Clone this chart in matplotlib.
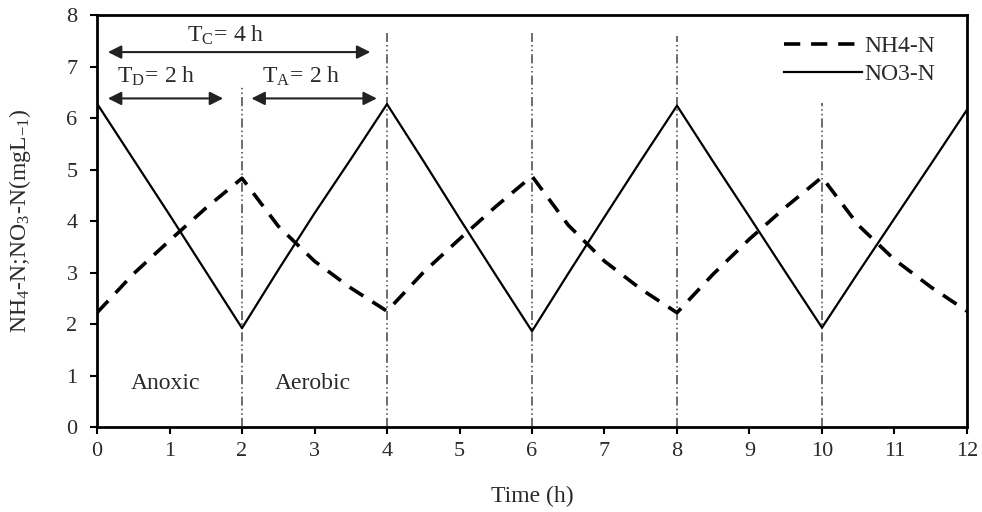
import matplotlib
matplotlib.use("Agg")
import matplotlib.pyplot as plt

plt.rcParams['font.family'] = ['Liberation Serif', 'DejaVu Serif']
plt.rcParams['mathtext.fontset'] = 'stix'

# Data
time_h = [0, 0.5, 1, 1.5, 2, 2.5, 3, 3.5, 4, 4.5, 5, 5.5, 6, 6.5, 7, 7.5, 8,
          8.5, 9, 9.5, 10, 10.5, 11, 11.5, 12]
nh4_n = [2.22, 2.97, 3.62, 4.25, 4.83, 3.9, 3.22, 2.7, 2.25,
         3.0, 3.65, 4.28, 4.87, 3.92, 3.22, 2.68, 2.22,
         2.97, 3.65, 4.27, 4.85, 3.92, 3.25, 2.72, 2.25]
no3_n = [6.28, 5.2, 4.12, 3.02, 1.92, 3.05, 4.15, 5.2, 6.27,
         5.17, 4.05, 2.95, 1.86, 2.98, 4.08, 5.17, 6.24,
         5.15, 4.08, 3.0, 1.93, 3.0, 4.05, 5.1, 6.16]
phase_times = [2, 4, 6, 8, 10]
phase_tops = [6.6, 7.65, 7.65, 7.6, 6.3]
x_ticks = list(range(0, 13))
y_ticks = list(range(0, 9))

txt = '#2a2a2a'
fig = plt.figure(figsize=(9.82, 5.12), dpi=100)
ax = fig.add_axes([0.0988, 0.166, 0.8859, 0.8047])

for t, top in zip(phase_times, phase_tops):
    ax.plot([t, t], [0, top], color='#444444', lw=1.1,
            dashes=(6, 2, 1, 2, 1, 2), zorder=1)

ax.plot(time_h, nh4_n, color='black', lw=2.6, dashes=(4.5, 3), label='NH4-N', zorder=3)
ax.plot(time_h, no3_n, color='black', lw=1.6, solid_joinstyle='round', label='NO3-N', zorder=3)

ax.set_xlim(0, 12)
ax.set_ylim(0, 8)
ax.set_xticks(x_ticks)
ax.set_yticks(y_ticks)
ax.tick_params(axis='x', direction='out', length=5, width=1.5, labelsize=16, labelcolor=txt, pad=6)
ax.tick_params(axis='y', direction='out', length=5, width=1.5, labelsize=16, labelcolor=txt, pad=9)
for s in ax.spines.values():
    s.set_linewidth(2.0)
    s.set_color('black')

ax.set_xlabel('Time (h)', fontsize=17, color=txt, labelpad=18)
ax.set_ylabel(r'NH$_{\mathregular{4}}$-N;NO$_{\mathregular{3}}$-N(mgL$_{\mathregular{-1}}$)',
              fontsize=17, color=txt, labelpad=24)

arrow_kw = dict(arrowstyle='<|-|>', color='#222222', lw=1.5, mutation_scale=20, shrinkA=0, shrinkB=0)
ax.annotate('', xy=(3.77, 7.28), xytext=(0.15, 7.28), arrowprops=arrow_kw)
ax.annotate('', xy=(1.74, 6.38), xytext=(0.15, 6.38), arrowprops=arrow_kw)
ax.annotate('', xy=(3.86, 6.38), xytext=(2.13, 6.38), arrowprops=arrow_kw)

ax.text(1.77, 7.6, r'T$_{\mathregular{C}}$= 4 h', fontsize=17, color=txt, ha='center', va='center')
ax.text(0.28, 6.8, r'T$_{\mathregular{D}}$= 2 h', fontsize=17, color=txt, ha='left', va='center')
ax.text(2.27, 6.8, r'T$_{\mathregular{A}}$= 2 h', fontsize=17, color=txt, ha='left', va='center')
ax.text(0.95, 0.85, 'Anoxic', fontsize=17, color=txt, ha='center', va='center')
ax.text(2.98, 0.85, 'Aerobic', fontsize=17, color=txt, ha='center', va='center')

leg = ax.legend(loc='upper right', frameon=False, fontsize=17, handlelength=3.3,
                handletextpad=0.1, labelspacing=0.25, borderaxespad=0.4,
                bbox_to_anchor=(0.985, 0.995))
for t in leg.get_texts():
    t.set_color(txt)

fig.savefig('out.png', dpi=100)
